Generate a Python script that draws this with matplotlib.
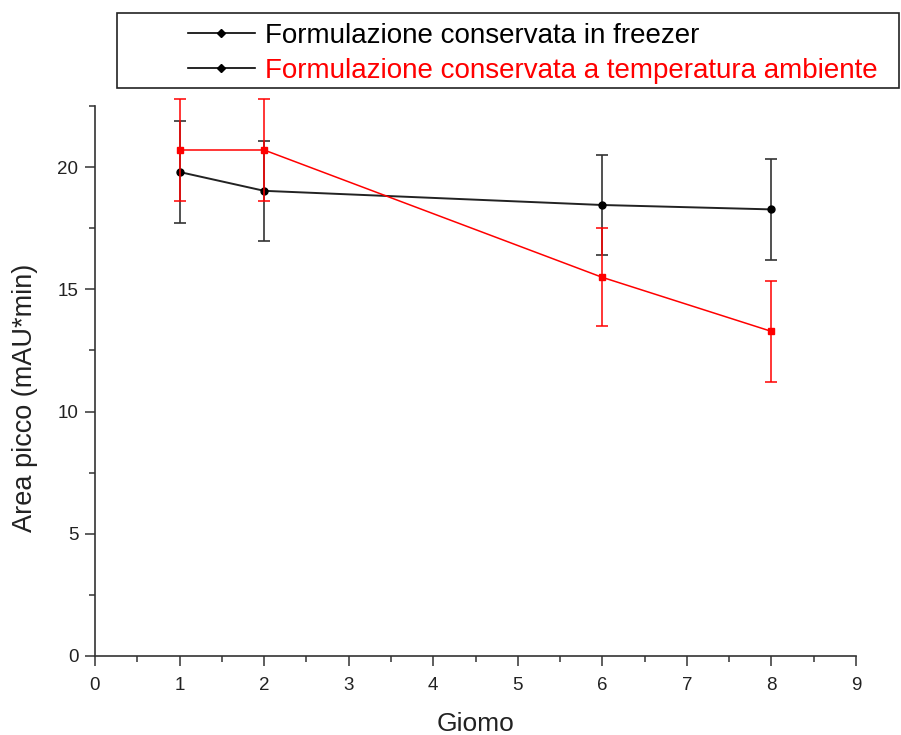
#!/usr/bin/env python3
"""Area picco vs giorno: formulation stored in freezer vs room temperature."""

import matplotlib.pyplot as plt
from matplotlib.lines import Line2D
from matplotlib.patches import Rectangle
from matplotlib.ticker import MultipleLocator

plt.rcParams['font.family'] = ['Liberation Sans', 'DejaVu Sans']

# Sample data
giorni = [1, 2, 6, 8]

freezer = [19.8, 19.03, 18.45, 18.27]
freezer_err = [2.1, 2.05, 2.03, 2.05]

ambiente = [20.7, 20.7, 15.49, 13.28]
ambiente_err = [2.07, 2.1, 2.0, 2.06]

labels = ['Formulazione conservata in freezer',
          'Formulazione conservata a temperatura ambiente']

W, H = 901, 735
fig = plt.figure(figsize=(W / 100, H / 100), dpi=100)
ax = fig.add_axes([95 / W, 1 - 656 / H, (856 - 95) / W, (656 - 106) / H])

# Freezer series (black)
ax.errorbar(giorni, freezer, yerr=freezer_err, color='#222222', ecolor='#333333',
            elinewidth=1.2, capsize=4.5, capthick=1.2, linewidth=1.4,
            marker='o', markersize=5, markerfacecolor='black',
            markeredgecolor='black', clip_on=False, zorder=3)

# Room temperature series (red)
ax.errorbar(giorni, ambiente, yerr=ambiente_err, color='red', ecolor='red',
            elinewidth=1.1, capsize=4.5, capthick=1.1, linewidth=1.1,
            marker='s', markersize=4.5, markerfacecolor='red',
            markeredgecolor='red', clip_on=False, zorder=4)

ax.set_xlim(0, 9)
ax.set_ylim(0, 22.5)
ax.xaxis.set_major_locator(MultipleLocator(1))
ax.xaxis.set_minor_locator(MultipleLocator(0.5))
ax.yaxis.set_major_locator(MultipleLocator(5))
ax.yaxis.set_minor_locator(MultipleLocator(2.5))

for side in ('top', 'right'):
    ax.spines[side].set_visible(False)
for side in ('left', 'bottom'):
    ax.spines[side].set_color('#333333')
    ax.spines[side].set_linewidth(1.2)

ax.tick_params(which='major', direction='out', length=7, width=1.1,
               color='#333333', labelsize=13.5, labelcolor='#222222', pad=5)
ax.tick_params(axis='x', which='major', pad=8)
ax.tick_params(which='minor', direction='out', length=4, width=1.1,
               color='#333333')

ax.set_xlabel('Giomo', fontsize=19, color='#222222', labelpad=13)
ax.set_ylabel('Area picco (mAU*min)', fontsize=19.5, color='#222222')
ax.yaxis.set_label_coords(-0.075, 0.47)

# Legend: black handles, second label in red, framed box above the axes
handles = [Line2D([], [], color='black', linewidth=1.2, marker='D', markersize=4),
           Line2D([], [], color='black', linewidth=1.2, marker='D', markersize=4)]
leg = fig.legend(handles, labels, loc='upper left',
                 bbox_to_anchor=(174 / W, 1 - 9 / H), frameon=False,
                 fontsize=20, handlelength=2.4, handletextpad=0.36,
                 labelspacing=0.33, borderpad=0)
leg.get_texts()[1].set_color('red')

fig.patches.append(Rectangle((117 / W, 1 - 88 / H), (899 - 117) / W, 75 / H,
                             transform=fig.transFigure, fill=False,
                             edgecolor='#222222', linewidth=1.2))

fig.savefig('out.png', dpi=100)
